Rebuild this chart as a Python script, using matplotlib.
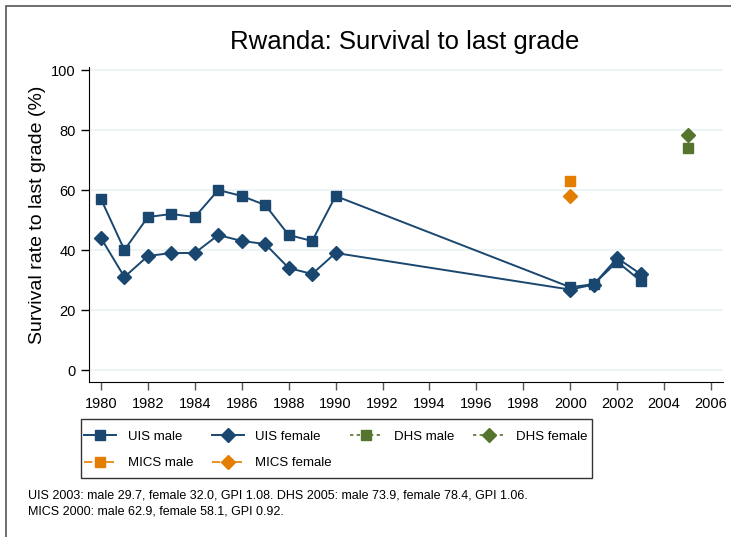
import matplotlib
matplotlib.use("Agg")
from matplotlib import pyplot as plt
from matplotlib.lines import Line2D
from matplotlib.patches import Rectangle

plt.rcParams['font.family'] = ['Liberation Sans', 'DejaVu Sans']

NAVY = '#1a476f'
GREEN = '#55752f'
ORANGE = '#e37e00'
GRID = '#eaf2f3'

# UIS series (years with data)
uis_years = [1980, 1981, 1982, 1983, 1984, 1985, 1986, 1987, 1988, 1989, 1990,
             2000, 2001, 2002, 2003]
uis_male = [57, 40, 51, 52, 51, 60, 58, 55, 45, 43, 58, 27.6, 28.6, 36.1, 29.7]
uis_female = [44, 31, 38, 39, 39, 45, 43, 42, 34, 32, 39, 26.8, 28.5, 37.3, 32.0]

dhs_years = [2005]
dhs_male = [73.9]
dhs_female = [78.4]

mics_years = [2000]
mics_male = [62.9]
mics_female = [58.1]

xticks = list(range(1980, 2007, 2))
yticks = [0, 20, 40, 60, 80, 100]

title = "Rwanda: Survival to last grade"
ylabel = "Survival rate to last grade (%)"
note = ("UIS 2003: male 29.7, female 32.0, GPI 1.08. DHS 2005: male 73.9, female 78.4, GPI 1.06.\n"
        "MICS 2000: male 62.9, female 58.1, GPI 0.92.")

W, H = 731, 537
fig = plt.figure(figsize=(W / 100, H / 100), dpi=100)
ax = fig.add_axes([89 / W, 1 - 382 / H, (723 - 89) / W, (382 - 67) / H])

# outer frame
fig.patches.append(Rectangle((6 / W, -0.1), 1.2, 1 - 6 / H + 0.1, transform=fig.transFigure,
                             fill=False, edgecolor='#555555', linewidth=1.2))

for y in yticks:
    ax.axhline(y, color=GRID, linewidth=1.2, zorder=0)

sq = dict(marker='s', markersize=7.5)
dm = dict(marker='D', markersize=7.5)

ax.plot(uis_years, uis_male, color=NAVY, linewidth=1.4, **sq)
ax.plot(uis_years, uis_female, color=NAVY, linewidth=1.4, **dm)
ax.plot(dhs_years, dhs_male, color=GREEN, linestyle='none', **sq)
ax.plot(dhs_years, dhs_female, color=GREEN, linestyle='none', **dm)
ax.plot(mics_years, mics_male, color=ORANGE, linestyle='none', **sq)
ax.plot(mics_years, mics_female, color=ORANGE, linestyle='none', **dm)

ax.set_xlim(1979.49, 2006.51)
ax.set_ylim(-4, 101)
ax.set_xticks(xticks)
ax.set_yticks(yticks)
ax.tick_params(axis='both', labelsize=10.5, length=6, width=1)
ax.tick_params(axis='x', color='#555555', pad=5)
for s in ['top', 'right']:
    ax.spines[s].set_visible(False)
fig.text(38 / W, 1 - 215 / H, ylabel, fontsize=14, rotation=90, ha='center', va='center')
fig.text(405 / W, 1 - 42 / H, title, fontsize=18.5, ha='center', va='center')

mics_ls = (0, (5, 2, 1, 2, 1, 2))
h_uis_m = Line2D([], [], color=NAVY, linewidth=1.4, **sq)
h_uis_f = Line2D([], [], color=NAVY, linewidth=1.4, **dm)
h_dhs_m = Line2D([], [], color=GREEN, linewidth=1.2, linestyle=(0, (2, 2)), **sq)
h_dhs_f = Line2D([], [], color=GREEN, linewidth=1.2, linestyle=(0, (2, 2)), **dm)
h_mics_m = Line2D([], [], color=ORANGE, linewidth=1.2, linestyle=mics_ls, **sq)
h_mics_f = Line2D([], [], color=ORANGE, linewidth=1.2, linestyle=mics_ls, **dm)

handles = [h_uis_m, h_mics_m, h_uis_f, h_mics_f, h_dhs_m, h_dhs_f]
labels = ['UIS male', 'MICS male', 'UIS female', 'MICS female', 'DHS male', 'DHS female']
leg = fig.legend(handles, labels, loc='center left', bbox_to_anchor=(84 / W, 1 - 450 / H),
                 ncol=4, fontsize=9.5, frameon=False,
                 handlelength=2.45, handletextpad=0.85, columnspacing=1.4,
                 borderpad=0, labelspacing=1.05, borderaxespad=0)
# legend box drawn separately
fig.patches.append(Rectangle((81 / W, 1 - 478 / H), (592 - 81) / W, (478 - 419) / H,
                             transform=fig.transFigure, fill=False,
                             edgecolor='#333333', linewidth=1.0))

fig.text(28 / W, 1 - 490 / H, note, fontsize=9, ha='left', va='top', linespacing=1.35)

fig.savefig('out.png', dpi=100)
